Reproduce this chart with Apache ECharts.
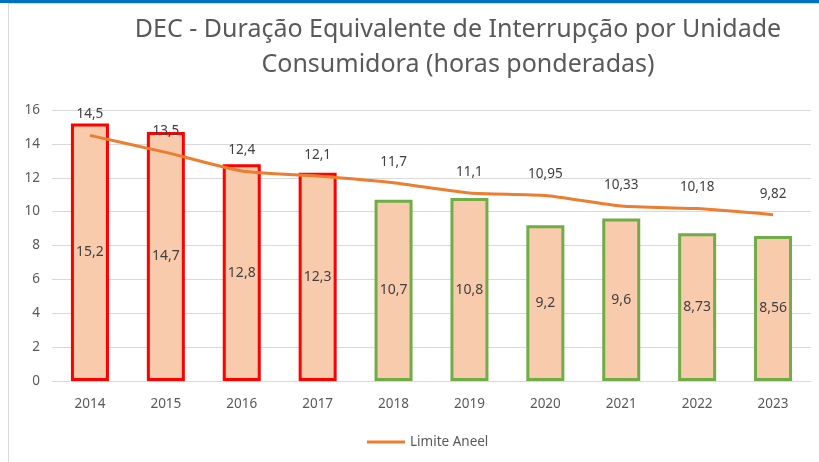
<!DOCTYPE html>
<html>
<head>
<meta charset="utf-8">
<script src="https://cdn.jsdelivr.net/npm/echarts@6/dist/echarts.min.js"></script>
<style>
  html, body { margin: 0; padding: 0; background: #fff; }
  #topbar { position: absolute; left: 0; top: 0; width: 819px; height: 3px; background: #0070C0; }
  #frame { position: absolute; left: 8px; top: 3px; width: 819px; height: 470px;
           border-left: 1px solid #d9d9d9; border-top: 1px solid #d9d9d9; }
  #chart { position: absolute; left: 0; top: 0; width: 819px; height: 462px; }
</style>
</head>
<body>
<div id="topbar"></div>
<div id="frame"></div>
<div id="chart"></div>
<script>
var years = ["2014", "2015", "2016", "2017", "2018", "2019", "2020", "2021", "2022", "2023"];
var decValues = [15.2, 14.7, 12.8, 12.3, 10.7, 10.8, 9.2, 9.6, 8.73, 8.56];
var limiteAneel = [14.5, 13.5, 12.4, 12.1, 11.7, 11.1, 10.95, 10.33, 10.18, 9.82];
var overLimit = [true, true, true, true, false, false, false, false, false, false];

var fmt = function (v) { return String(v).replace(".", ","); };

var chart = echarts.init(document.getElementById("chart"));
chart.setOption({
  animation: false,
  textStyle: { fontFamily: "Noto Sans" },
  title: {
    text: "DEC - Duração Equivalente de Interrupção por Unidade\nConsumidora (horas ponderadas)",
    left: 453,
    top: 7,
    textAlign: "center",
    textStyle: {
      fontFamily: "Noto Sans",
      fontWeight: "normal",
      fontSize: 25,
      lineHeight: 35,
      color: "#595959"
    }
  },
  legend: {
    data: [{ name: "Limite Aneel", icon: "rect", itemStyle: { color: "#ED7D31", opacity: 1 } }],
    left: 362,
    top: 430,
    itemWidth: 38,
    itemHeight: 3,
    textStyle: { color: "#595959", fontSize: 13.5 }
  },
  grid: { left: 52, right: 8, top: 110, bottom: 81 },
  xAxis: {
    type: "category",
    data: years,
    axisTick: { show: false },
    axisLine: { lineStyle: { color: "#d9d9d9" } },
    axisLabel: { color: "#595959", fontSize: 13.5, margin: 16 }
  },
  yAxis: {
    type: "value",
    min: 0,
    max: 16,
    interval: 2,
    axisLine: { show: false },
    axisTick: { show: false },
    splitLine: { lineStyle: { color: "#d9d9d9" } },
    axisLabel: { color: "#595959", fontSize: 13.5, margin: 12 }
  },
  series: [
    {
      name: "DEC",
      type: "bar",
      barWidth: 38,
      data: decValues.map(function (v, i) {
        return {
          value: v,
          itemStyle: { borderColor: overLimit[i] ? "#FF0000" : "#70AD47" }
        };
      }),
      itemStyle: { color: "#F8CBAD", borderWidth: 3 },
      label: {
        show: true,
        position: "inside",
        color: "#404040",
        fontSize: 14,
        formatter: function (p) { return fmt(p.value); }
      }
    },
    {
      name: "Limite Aneel",
      type: "line",
      data: limiteAneel,
      smooth: 0.2,
      symbol: "circle",
      symbolSize: 0,
      showSymbol: true,
      lineStyle: { color: "#ED7D31", width: 3 },
      itemStyle: { color: "#ED7D31" },
      labelLayout: { hideOverlap: false },
      label: {
        show: true,
        position: "top",
        distance: 14,
        color: "#404040",
        fontSize: 13.5,
        formatter: function (p) { return fmt(p.value); }
      }
    }
  ]
});
</script>
</body>
</html>
